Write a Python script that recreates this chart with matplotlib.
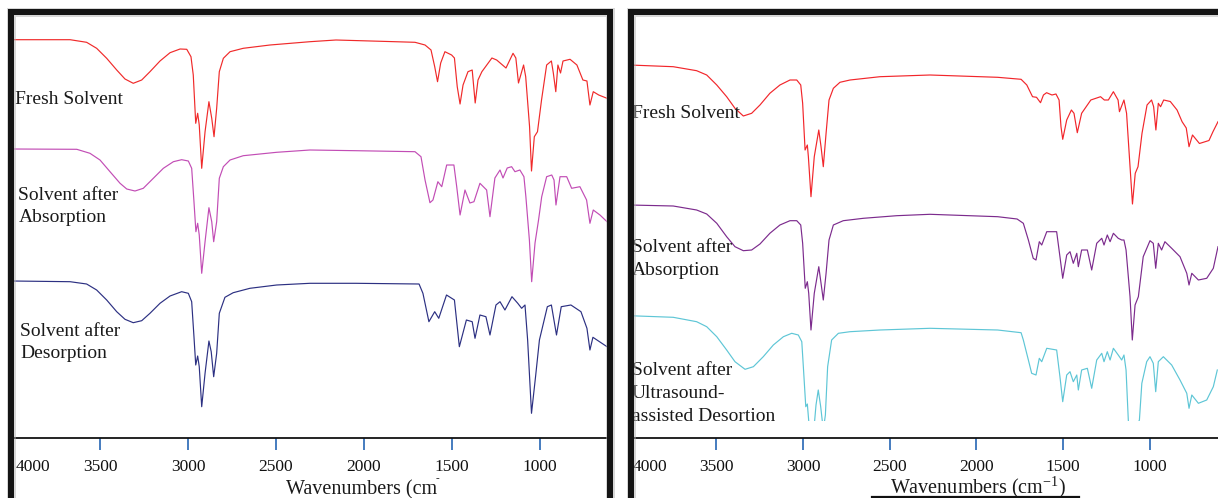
import matplotlib
matplotlib.use("Agg")
import matplotlib.pyplot as plt
from matplotlib.patches import Rectangle
from matplotlib.lines import Line2D
from matplotlib.transforms import ScaledTranslation

plt.rcParams['font.family'] = ['Liberation Serif', 'DejaVu Serif']
plt.rcParams['mathtext.fontset'] = 'stix'

# ---------------- data (wavenumber in cm^-1, transmittance in a.u.) ----------------
tick_values = [4000, 3500, 3000, 2500, 2000, 1500, 1000]
tick_labels = ["4000", "3500", "3000", "2500", "2000", "1500", "1000"]

# Left panel
left_fresh_wn = [4000, 3670, 3576, 3519, 3462, 3405, 3358, 3311, 3263, 3216, 3159, 3102, 3045, 3007, 2983,
                 2970, 2956, 2945, 2936, 2922, 2903, 2881, 2865, 2852, 2837, 2822, 2799, 2761, 2686, 2534,
                 2307, 2159, 1824, 1710, 1653, 1619, 1598,
                 1582, 1564, 1540, 1502, 1486, 1470, 1454, 1437, 1409, 1385, 1368, 1352, 1330, 1273, 1246,
                 1193, 1153, 1137, 1122, 1093, 1081, 1059, 1048, 1032, 1014, 991, 962, 935, 924, 910,
                 898, 883, 869, 829, 790, 756, 733, 716, 697, 666, 619]
left_fresh_t = [100.3, 100.3, 97.7, 91.7, 81.7, 70, 61, 56.7, 60, 68.3, 79, 87.3, 91, 90.7, 83.3,
                65, 16.7, 26.7, 15, -28.3, 8.3, 38.3, 21.7, 3.3, 31.7, 68.3, 81.7, 88.3, 91.7, 95,
                98.3, 100, 98.3, 97.7, 95, 90, 73.3,
                58.3, 77, 88.3, 85, 82, 53.3, 36, 55, 68.3, 70, 37, 60, 68.3, 82, 80,
                72, 86.7, 82, 57, 75, 63.3, 13.3, -31, 3.3, 8.3, 40, 75, 79, 67, 48.3,
                75, 67, 79, 80.7, 75, 60, 59, 35, 48.3, 45, 41.7]

left_abs_wn = [4000, 3632, 3557, 3500, 3443, 3386, 3348, 3301, 3254, 3197, 3140, 3083, 3036, 2998, 2979,
               2966, 2955, 2945, 2936, 2922, 2903, 2881, 2865, 2854, 2837, 2822, 2799, 2761, 2686, 2496,
               2307, 2045, 1710, 1676, 1653, 1625, 1608, 1580, 1558,
               1530, 1489, 1473, 1454, 1426, 1398, 1375, 1341, 1303, 1284, 1256, 1227, 1210, 1186, 1161,
               1142, 1114, 1091, 1080, 1060, 1047, 1028, 1008, 990, 962, 933, 920, 909, 886, 848,
               820, 773, 735, 716, 697, 659, 619]
left_abs_t = [101, 100.7, 96.7, 90, 78.3, 66.7, 61, 59, 61.7, 71.7, 81.7, 88.3, 90.3, 89, 81.7,
              48.3, 18.3, 26.7, 15, -23.3, 8.3, 42.3, 28.3, 8.3, 28.3, 71.7, 83.3, 90, 94.3, 97.7,
              100, 99.3, 98.3, 93.3, 70, 47.3, 50, 68.3, 63.3,
              85, 85, 63.3, 35, 60, 47, 48.3, 66.7, 60, 33.3, 72, 80, 72, 82, 83.3,
              78.3, 80, 73.3, 53.3, 10, -31.7, 7, 30, 53.3, 73.3, 75, 70, 45, 73.3, 73.3,
              61.7, 63.3, 50, 26.7, 40, 35, 28.3]

left_des_wn = [4000, 3670, 3576, 3519, 3462, 3405, 3358, 3311, 3263, 3216, 3159, 3102, 3036, 2998, 2979,
               2966, 2956, 2945, 2936, 2922, 2903, 2881, 2868, 2854, 2837, 2822, 2790, 2743, 2648, 2496,
               2307, 2047, 1687, 1665, 1631, 1598, 1575, 1531, 1486, 1458, 1418,
               1385, 1369, 1341, 1307, 1284, 1250, 1227, 1199, 1159, 1126, 1104, 1085, 1070, 1048, 1025,
               1003, 958, 935, 906, 879, 824, 767, 733, 716, 699, 619]
left_des_t = [102, 101.3, 99, 93, 83, 71.3, 63.7, 60.3, 62.3, 69.7, 79.7, 87, 91.3, 89.7, 81.3,
              46.3, 18, 27, 16.3, -23.7, 9.7, 42, 31.3, 6.3, 29.7, 69.7, 85.7, 90.3, 94.7, 98,
              99.7, 99.7, 99, 89.7, 61.3, 71.3, 64.7, 88, 83, 36.3, 63,
              61.3, 44.7, 68, 66.3, 48, 78, 81.3, 73, 86.3, 79.7, 74.7, 78, 43, -30.3, 6.3,
              43, 76.3, 78, 48, 76.3, 78, 71.3, 54.7, 33, 45.7, 36.3]

# Right panel
right_fresh_wn = [4000, 3748, 3613, 3555, 3497, 3440, 3392, 3344, 3296, 3248, 3191, 3133, 3075, 3036, 3013,
                  3002, 2988, 2975, 2969, 2954, 2935, 2909, 2896, 2883, 2867, 2850, 2825, 2787, 2729, 2556,
                  2268, 1878, 1743, 1710, 1677, 1654,
                  1631, 1614, 1596, 1565, 1542, 1524, 1513, 1503, 1480, 1453, 1438, 1419, 1394, 1341, 1285,
                  1263, 1240, 1211, 1184, 1176, 1150, 1135, 1115, 1101, 1085, 1069, 1046, 1017, 991, 979,
                  966, 952, 939, 921, 883, 844, 815, 791, 775, 755, 715, 660, 637, 608]
right_fresh_t = [101, 99.3, 95.3, 91, 81, 69.3, 57.7, 50, 52.7, 61, 72.7, 81, 86, 86, 81,
                 62.7, 16, 21, 9.3, -30.7, 9.3, 36, 19.3, -0.7, 32.7, 66, 77.7, 83.7, 86, 89.3,
                 91, 88.7, 86.7, 81, 69.3, 68.7,
                 63.3, 71, 73.3, 71, 72, 66, 39.3, 26.7, 46, 56, 52.7, 33.3, 52.7, 66, 69.3,
                 66, 66, 74.3, 66, 54.3, 66, 52.7, -0.7, -38, -7.3, -0.7, 32.7, 61, 66, 59.3,
                 36, 62.7, 59.3, 66, 64.5, 56, 44.3, 38, 19.3, 31, 22.5, 25.5, 34.3, 44.3]

right_abs_wn = [4000, 3748, 3613, 3555, 3497, 3440, 3392, 3344, 3296, 3248, 3191, 3133, 3075, 3036, 3013,
                3002, 2987, 2975, 2967, 2954, 2935, 2909, 2896, 2883, 2867, 2850, 2825, 2768, 2652, 2460,
                2268, 1878, 1766, 1730, 1701, 1673,
                1657, 1638, 1624, 1595, 1538, 1519, 1503, 1480, 1461, 1442, 1422, 1413, 1394, 1361, 1336,
                1307, 1278, 1265, 1246, 1230, 1211, 1183, 1163, 1150, 1138, 1115, 1102, 1086, 1067, 1039,
                1000, 981, 967, 952, 933, 914, 875, 827, 788, 775, 759, 721, 673, 635, 608]
right_abs_t = [101, 100, 96, 92, 82.7, 69.3, 59.3, 55.3, 56, 62, 72.7, 81, 85.3, 85.3, 81,
               62.7, 17.7, 24.3, 12.7, -24, 12.7, 39.3, 22.7, 6, 32.7, 66, 81, 85.3, 87.7, 90.3,
               91.7, 89.3, 87, 82.7, 66, 47.7,
               46, 64.3, 61, 74.3, 74.3, 49.3, 27.7, 51, 54.3, 42.7, 52.7, 39.3, 56, 56, 36,
               62.7, 67.7, 61, 71, 64.3, 72.7, 67.7, 66, 66, 56, 9.3, -34, 1, 9.3, 49.3,
               65.3, 62.7, 37.7, 62.7, 56, 64.3, 57.7, 49.3, 32.7, 21, 32.7, 26, 27.7, 37.7, 59.3]

right_us_wn = [4000, 3748, 3613, 3555, 3497, 3440, 3392, 3334, 3286, 3229, 3171, 3113, 3065, 3027, 3007,
               2998, 2984, 2975, 2965, 2954, 2935, 2925, 2912, 2898, 2883, 2871, 2858, 2835, 2796, 2729,
               2556, 2268, 1878, 1743, 1730, 1701, 1682,
               1657, 1638, 1624, 1595, 1538, 1519, 1503, 1480, 1461, 1442, 1422, 1413, 1394, 1361, 1336,
               1307, 1278, 1265, 1246, 1230, 1211, 1183, 1163, 1150, 1138, 1125, 1102, 1086, 1061, 1047,
               1019, 1000, 981, 967, 952, 923, 875, 827, 788, 775, 759, 721, 673, 635, 612]
right_us_t = [100.3, 98.7, 94.3, 89.3, 79.3, 66, 54.3, 46.7, 49.3, 59.3, 71, 79.3, 82.7, 81, 74.3,
              49.3, 9.3, 12, -9, -31, -9, 11, 26, 9.3, -14, 1, 49.3, 76, 82.7, 84.3,
              86, 87.7, 86, 83.3, 76, 56, 42.7,
              41, 57.7, 54.3, 67.7, 66, 39.3, 14.3, 41, 44.3, 34.3, 41, 26, 46, 47.7, 27.7,
              56, 62.7, 54.3, 64.3, 56, 67.7, 61, 56, 61, 46, -4, -44, -14, -4, 32.7,
              54.3, 59.3, 52.7, 24.3, 54.3, 59.3, 51, 36, 22.7, 7.7, 21, 12.7, 16, 29.3, 46]

# ---------------- layout helpers (pixel based) ----------------
W, H = 1218, 498
fig = plt.figure(figsize=(W / 100, H / 100), dpi=100)
fig.patch.set_facecolor('white')


def fx(px):
    return px / W


def fy(py):
    return 1 - py / H


PX = 0.72  # points per pixel at dpi 100
TICK_COLOR = '#4a7fc0'


def make_axes(x0, x1, xmax_wn, xmin_wn):
    ax = fig.add_axes([fx(x0), fy(438), (x1 - x0) / W, (438 - 16) / H])
    ax.set_xlim(xmax_wn, xmin_wn)
    ax.set_ylim(0, 422)
    for s in ('top', 'left', 'right'):
        ax.spines[s].set_visible(False)
    ax.spines['bottom'].set_linewidth(1.8 * PX)
    ax.spines['bottom'].set_color('#111111')
    ax.set_yticks([])
    ax.set_xticks(tick_values)
    ax.set_xticklabels(tick_labels)
    ax.tick_params(axis='x', direction='out', length=12 * PX, width=2 * PX,
                   color=TICK_COLOR, labelsize=12.5, pad=6.5, labelcolor='#111111')
    ax.patch.set_alpha(0)
    lab0 = ax.get_xticklabels()[0]
    lab0.set_ha('left')
    lab0.set_transform(lab0.get_transform() + ScaledTranslation(3.5 / 100, 0, fig.dpi_scale_trans))
    return ax


axL = make_axes(12, 607, 4000, 619)
axR = make_axes(629.5, 1218, 4000, 608)

LW = 0.85


def plot_trace(ax, wn, t, offset, color):
    y = [v + offset for v in t]
    line, = ax.plot(wn, y, color=color, lw=LW, solid_joinstyle='round')
    return line


plot_trace(axL, left_fresh_wn, left_fresh_t, 298, '#f02a2a')
plot_trace(axL, left_abs_wn, left_abs_t, 188, '#c24db5')
plot_trace(axL, left_des_wn, left_des_t, 55, '#2c3082')

plot_trace(axR, right_fresh_wn, right_fresh_t, 272, '#f2262b')
plot_trace(axR, right_abs_wn, right_abs_t, 132, '#7c2b8d')
us_line = plot_trace(axR, right_us_wn, right_us_t, 22, '#5ec6d6')
clip_rect = Rectangle((600, 17), 3400, 500, transform=axR.transData)
us_line.set_clip_path(clip_rect)

# ---------------- texts ----------------
TXT = dict(fontsize=14, color='#1a1a1a', ha='left', va='baseline')


def ftext(x, y, s, **kw):
    d = dict(TXT)
    d.update(kw)
    fig.text(fx(x), fy(y), s, **d)


ftext(15, 104, "Fresh Solvent")
ftext(18.5, 199.5, "Solvent after")
ftext(18.5, 221.5, "Absorption")
ftext(20.5, 336.5, "Solvent after")
ftext(20.5, 358.5, "Desorption")

ftext(632, 118, "Fresh Solvent")
ftext(632, 252, "Solvent after")
ftext(632, 275, "Absorption")
ftext(632, 374.5, "Solvent after")
ftext(632, 397.5, "Ultrasound-")
ftext(632, 421, "assisted Desortion")

# axis titles
ftext(286, 494, "Wavenumbers (cm", fontsize=14.5)
ftext(436, 481, "-", fontsize=8)
ftext(890, 493, r"Wavenumbers (cm$^{\mathregular{-1}}$)", fontsize=14.5)

# ---------------- panel frames ----------------
for (x0, y0, x1, y1) in [(11, 12, 610, 520), (630.5, 12.5, 1226, 520)]:
    shadow = Rectangle((fx(x0), fy(y1)), fx(x1) - fx(x0), fy(y0) - fy(y1),
                       transform=fig.transFigure, fill=False, lw=9 * PX,
                       ec='#b0b0b0', alpha=0.5, zorder=9, joinstyle='miter', clip_on=False)
    fig.add_artist(shadow)
    frame = Rectangle((fx(x0), fy(y1)), fx(x1) - fx(x0), fy(y0) - fy(y1),
                      transform=fig.transFigure, fill=False, lw=6 * PX,
                      ec='#141414', zorder=10, joinstyle='miter', clip_on=False)
    fig.add_artist(frame)

fig.add_artist(Line2D([fx(872), fx(1079)], [fy(497), fy(497)], transform=fig.transFigure,
                      color='#111111', lw=2.2 * PX, zorder=10))

fig.savefig("out.png", dpi=100, facecolor='white')
